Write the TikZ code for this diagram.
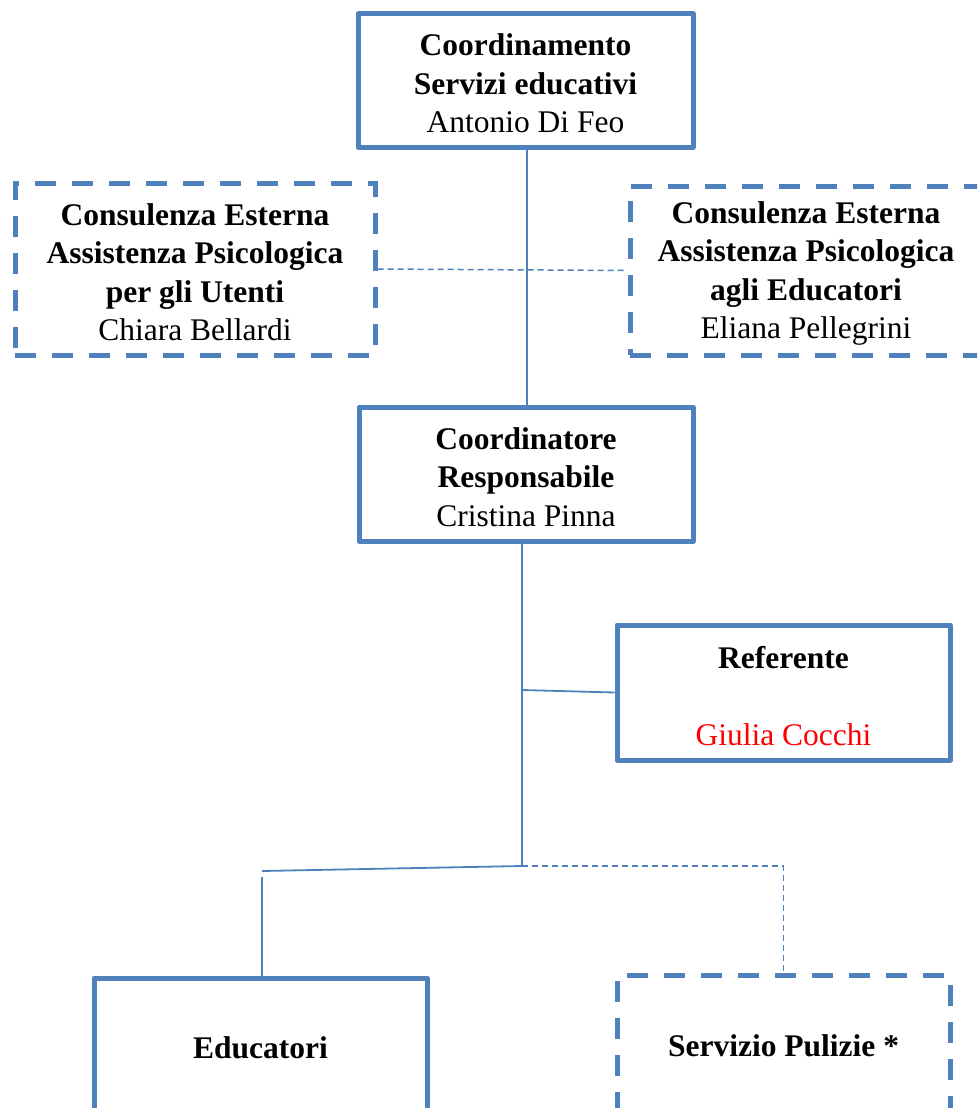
\documentclass[tikz,border=0pt]{standalone}
\usepackage{fontspec}
\setmainfont{Liberation Serif}
\definecolor{boxblue}{RGB}{79,129,189}
\definecolor{namered}{RGB}{255,0,0}
\newcommand{\topstrut}{\rule{0pt}{28pt}}
\begin{document}
\begin{tikzpicture}[x=1pt,y=-1pt,
  every node/.style={font=\fontsize{31.5}{38.5}\selectfont, align=center, inner sep=0pt},
  solidbox/.style={draw=boxblue, line width=5pt, line join=round, fill=white},
  dashbox/.style={draw=boxblue, line width=5pt, dash pattern=on 21pt off 16pt, fill=white},
  conn/.style={draw=boxblue, line width=1.8pt},
  dconn/.style={draw=boxblue, line width=1.5pt, dash pattern=on 6pt off 4pt}
]
\useasboundingbox (0,0) rectangle (977,1108);
\clip (0,0) rectangle (977,1108);
\fill[white] (0,0) rectangle (977,1108);

\coordinate (jR) at (522,690);
\coordinate (jB) at (522,866);
\coordinate (jL) at (262,871);

\node[solidbox, minimum width=335, minimum height=133] (top) at (525.5,80.5)
  {\topstrut\textbf{Coordinamento}\\\textbf{Servizi educativi}\\Antonio Di Feo};
\node[dashbox, minimum width=360, minimum height=172] (left) at (195,269)
  {\topstrut\textbf{Consulenza Esterna}\\\textbf{Assistenza Psicologica}\\\textbf{per gli Utenti}\\Chiara Bellardi};
\node[dashbox, minimum width=352, minimum height=169] (right) at (806,270.5)
  {\topstrut\textbf{Consulenza Esterna}\\\textbf{Assistenza Psicologica}\\\textbf{agli Educatori}\\Eliana Pellegrini};
\node[solidbox, minimum width=334, minimum height=134] (mid) at (526,474)
  {\topstrut\textbf{Coordinatore}\\\textbf{Responsabile}\\Cristina Pinna};
\node[solidbox, minimum width=333, minimum height=135] (ref) at (783.5,692.5)
  {\rule{0pt}{29pt}\textbf{Referente}\\[38.5pt]\textcolor{namered}{Giulia Cocchi}};
\node[solidbox, minimum width=333, minimum height=140] (edu) at (260.5,1048)
  {\textbf{Educatori}};
\node[dashbox, minimum width=333, minimum height=142] (srv) at (783.5,1046)
  {\textbf{Servizio Pulizie *}};

\draw[conn] (top.south -| 527,0) -- (mid.north -| 527,0);
\draw[dconn] (left.east) -- (right.west);
\draw[conn] (mid.south -| jB) -- (jB);
\draw[conn] (jR) -- (ref.west);
\draw[conn] (jB) -- (jL);
\draw[conn] (262,877) -- (edu.north -| jL);
\draw[dconn] (jB) -| (srv.north);
\end{tikzpicture}
\end{document}
